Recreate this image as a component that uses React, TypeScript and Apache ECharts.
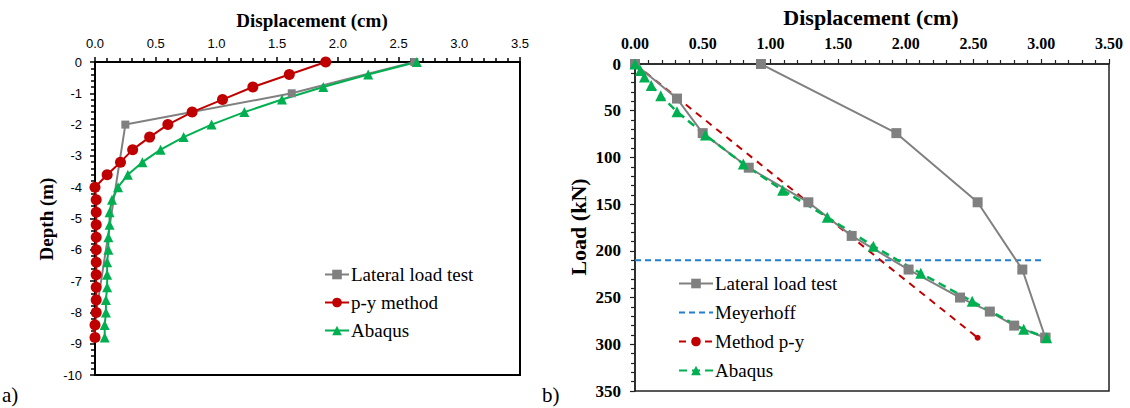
import React, { useEffect, useRef } from "react";
import * as echarts from "echarts";

// ---- Left chart (a): displacement vs depth ----
const leftDepth = [0, -0.4, -0.8, -1.2, -1.6, -2.0, -2.4, -2.8, -3.2, -3.6, -4.0, -4.4, -4.8, -5.2, -5.6, -6.0, -6.4, -6.8, -7.2, -7.6, -8.0, -8.4, -8.8];
const pyDisp = [1.9, 1.6, 1.3, 1.05, 0.8, 0.6, 0.45, 0.31, 0.21, 0.1, 0.0, 0.01, 0.01, 0.01, 0.01, 0.01, 0.01, 0.01, 0.01, 0.01, 0.01, 0.0, 0.0];
const abaqusDisp = [2.65, 2.25, 1.88, 1.54, 1.23, 0.96, 0.73, 0.54, 0.39, 0.27, 0.19, 0.14, 0.12, 0.12, 0.11, 0.11, 0.1, 0.1, 0.1, 0.09, 0.09, 0.08, 0.08];
const lateralDepth = [0, -1, -2, -8];
const lateralDisp = [2.63, 1.62, 0.25, 0.01];

// ---- Right chart (b): displacement vs load ----
const testLoadA = [0, 37, 74, 111, 148, 184, 220, 250, 265, 280, 293];
const testDispA = [0, 0.31, 0.5, 0.84, 1.28, 1.6, 2.02, 2.4, 2.62, 2.8, 3.03];
const testLoadB = [0, 74, 148, 220, 293];
const testDispB = [0.93, 1.93, 2.53, 2.86, 3.03];
const meyerhoffLoad = [210, 210];
const meyerhoffDisp = [0, 3.0];
const pyLoad = [0, 293];
const pyDispR = [0, 2.53];
const abaqusLoad = [0, 7, 14, 23, 34, 51, 76, 107, 135, 164, 195, 224, 254, 284, 293];
const abaqusDispR = [0, 0.04, 0.07, 0.12, 0.19, 0.31, 0.52, 0.8, 1.09, 1.42, 1.76, 2.11, 2.49, 2.87, 3.04];

const zip = (xs: number[], ys: number[]) => xs.map((x, i) => [x, ys[i]]);

const GRAY = "#808080";
const RED = "#c00000";
const GREEN = "#00b050";
const BLUE = "#1f7fd0";
const SERIF = "'Liberation Serif', 'Times New Roman', serif";
const SANS = "'Liberation Sans', Arial, sans-serif";

export default function App() {
  const ref = useRef<HTMLDivElement>(null);
  useEffect(() => {
    document.body.style.margin = "0";
    const chart = echarts.init(ref.current!, null, { renderer: "svg" });
    const strip = (n: string) => n.replace(/^b:/, "");
    const option: any = {
      animation: false,
      backgroundColor: "#fff",
      grid: [
        { left: 95, top: 62, width: 425, height: 313, show: true, borderColor: "#000", borderWidth: 2, backgroundColor: "transparent" },
        { left: 635, top: 64, width: 474, height: 327, show: true, borderColor: "#222", borderWidth: 1.5, backgroundColor: "transparent" },
      ],
      xAxis: [
        {
          gridIndex: 0, type: "value", position: "top", min: 0, max: 3.5, interval: 0.5,
          axisLine: { show: true, onZero: false, lineStyle: { color: "#000", width: 2 } },
          axisTick: { show: true, inside: false, length: 5, lineStyle: { color: "#000", width: 1.5 } },
          minorTick: { show: true, splitNumber: 5, length: 4, lineStyle: { color: "#000", width: 1.5 } },
          splitLine: { show: false },
          axisLabel: { margin: 12, color: "#000", fontFamily: SANS, fontSize: 13, formatter: (v: number) => v.toFixed(1) },
        },
        {
          gridIndex: 1, type: "value", position: "top", min: 0, max: 3.5, interval: 0.5,
          axisLine: { show: true, onZero: false, lineStyle: { color: "#222", width: 1.5 } },
          axisTick: { show: true, inside: false, length: 5, lineStyle: { color: "#222", width: 1.2 } },
          minorTick: { show: true, splitNumber: 5, length: 4, lineStyle: { color: "#222", width: 1.2 } },
          splitLine: { show: false },
          axisLabel: { margin: 13, color: "#000", fontFamily: SERIF, fontWeight: "bold", fontSize: 16, formatter: (v: number) => v.toFixed(2) },
        },
      ],
      yAxis: [
        {
          gridIndex: 0, type: "value", min: -10, max: 0, interval: 1,
          axisLine: { show: true, onZero: false, lineStyle: { color: "#000", width: 2 } },
          axisTick: { show: true, inside: false, length: 5, lineStyle: { color: "#000", width: 1.5 } },
          minorTick: { show: true, splitNumber: 5, length: 4, lineStyle: { color: "#000", width: 1.5 } },
          splitLine: { show: false },
          axisLabel: { margin: 13, color: "#000", fontFamily: SANS, fontSize: 13 },
        },
        {
          gridIndex: 1, type: "value", inverse: true, min: 0, max: 350, interval: 50,
          axisLine: { show: true, onZero: false, lineStyle: { color: "#222", width: 1.5 } },
          axisTick: { show: true, inside: false, length: 5, lineStyle: { color: "#222", width: 1.2 } },
          minorTick: { show: true, splitNumber: 5, length: 4, lineStyle: { color: "#222", width: 1.2 } },
          splitLine: { show: false },
          axisLabel: { margin: 14, color: "#000", fontFamily: SERIF, fontWeight: "bold", fontSize: 17 },
        },
      ],
      legend: [
        {
          orient: "vertical", left: 319, top: 260, itemGap: 9, itemWidth: 24, itemHeight: 12,
          data: ["Lateral load test", "p-y method", "Abaqus"],
          textStyle: { fontFamily: SERIF, fontSize: 19, color: "#000", padding: [0, 0, 0, -3] },
        },
        {
          orient: "vertical", left: 673, top: 269, itemGap: 10, itemWidth: 34, itemHeight: 12,
          data: [
            "b:Lateral load test",
            { name: "b:Meyerhoff", itemStyle: { opacity: 0 } },
            "b:Method p-y",
            "b:Abaqus",
          ],
          formatter: strip,
          textStyle: { fontFamily: SERIF, fontSize: 19, color: "#000", padding: [0, 0, 0, -3] },
        },
      ],
      series: [
        {
          name: "Lateral load test", type: "line", xAxisIndex: 0, yAxisIndex: 0,
          data: zip(lateralDisp, lateralDepth), symbol: "rect", symbolSize: 8,
          lineStyle: { color: GRAY, width: 2 }, itemStyle: { color: GRAY },
        },
        {
          name: "p-y method", type: "line", xAxisIndex: 0, yAxisIndex: 0,
          data: zip(pyDisp, leftDepth), symbol: "circle", symbolSize: 11,
          lineStyle: { color: RED, width: 2 }, itemStyle: { color: RED },
        },
        {
          name: "Abaqus", type: "line", xAxisIndex: 0, yAxisIndex: 0,
          data: zip(abaqusDisp, leftDepth), symbol: "triangle", symbolSize: 10,
          lineStyle: { color: GREEN, width: 2 }, itemStyle: { color: GREEN },
        },
        {
          name: "b:Meyerhoff", type: "line", xAxisIndex: 1, yAxisIndex: 1,
          data: zip(meyerhoffDisp, meyerhoffLoad), symbol: "none",
          lineStyle: { color: BLUE, width: 2, type: [6, 4] }, itemStyle: { color: BLUE },
        },
        {
          name: "b:Method p-y", type: "line", xAxisIndex: 1, yAxisIndex: 1,
          data: zip(pyDispR, pyLoad), symbol: "circle", symbolSize: 6,
          lineStyle: { color: RED, width: 2, type: [7, 6] }, itemStyle: { color: RED },
        },
        {
          name: "b:Lateral load test", type: "line", xAxisIndex: 1, yAxisIndex: 1,
          data: zip(testDispA, testLoadA), symbol: "rect", symbolSize: 10,
          lineStyle: { color: GRAY, width: 2 }, itemStyle: { color: GRAY },
        },
        {
          name: "b:Lateral load test", type: "line", xAxisIndex: 1, yAxisIndex: 1,
          data: zip(testDispB, testLoadB), symbol: "rect", symbolSize: 10,
          lineStyle: { color: GRAY, width: 2 }, itemStyle: { color: GRAY },
        },
        {
          name: "b:Abaqus", type: "line", xAxisIndex: 1, yAxisIndex: 1,
          data: zip(abaqusDispR, abaqusLoad), symbol: "triangle", symbolSize: 11,
          lineStyle: { color: GREEN, width: 2.5, type: [8, 5] }, itemStyle: { color: GREEN },
        },
      ],
      graphic: [
        { type: "text", x: 312, y: 20, style: { text: "Displacement (cm)", font: `bold 19px ${SERIF}`, fill: "#000", align: "center", verticalAlign: "middle" } },
        { type: "text", x: 46, y: 219, rotation: Math.PI / 2, style: { text: "Depth (m)", font: `bold 19px ${SERIF}`, fill: "#000", align: "center", verticalAlign: "middle" } },
        { type: "text", x: 871, y: 17, style: { text: "Displacement (cm)", font: `bold 22px ${SERIF}`, fill: "#000", align: "center", verticalAlign: "middle" } },
        { type: "text", x: 578, y: 227, rotation: Math.PI / 2, style: { text: "Load (kN)", font: `bold 22px ${SERIF}`, fill: "#000", align: "center", verticalAlign: "middle" } },
        { type: "text", x: 2, y: 395, style: { text: "a)", font: `21px ${SERIF}`, fill: "#000", verticalAlign: "middle" } },
        { type: "text", x: 542, y: 395, style: { text: "b)", font: `21px ${SERIF}`, fill: "#000", verticalAlign: "middle" } },
      ],
    };
    chart.setOption(option);
    return () => chart.dispose();
  }, []);
  return <div ref={ref} style={{ width: 1130, height: 408 }} />;
}
